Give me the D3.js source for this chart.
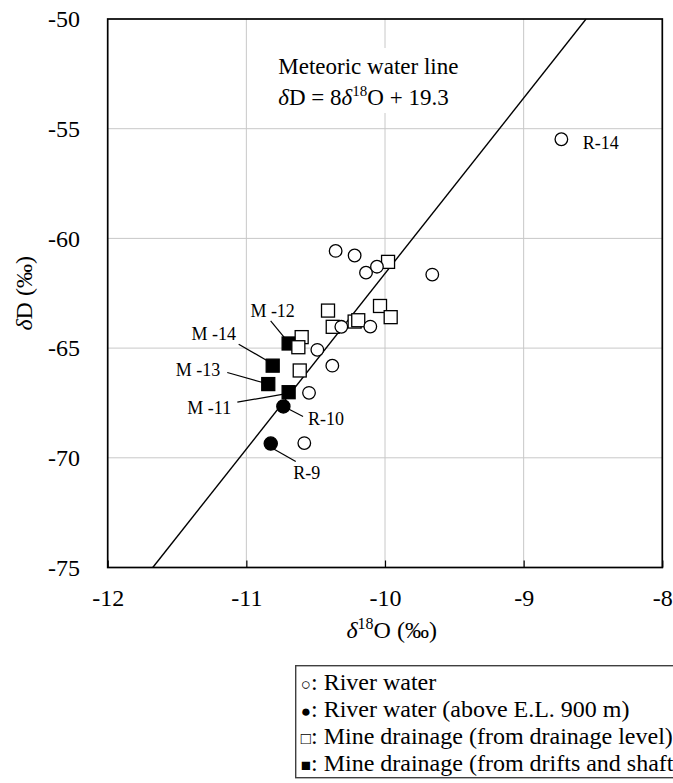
<!DOCTYPE html>
<html><head><meta charset="utf-8">
<script src="https://cdn.jsdelivr.net/npm/d3@7"></script>
<style>
html,body{margin:0;padding:0;background:#fff;overflow:hidden}
</style></head><body>
<svg id="chart" width="673" height="783"></svg>
<script>
// ---- data ----
const xTickValues = [-12, -11, -10, -9, -8];
const yTickValues = [-75, -70, -65, -60, -55, -50];
const xTickLabels = ["-12", "-11", "-10", "-9", "-8"];
const yTickLabels = ["-75", "-70", "-65", "-60", "-55", "-50"];

// River water (open circles)
const riverX = [-10.356, -10.219, -10.137, -10.058, -9.659, -10.315, -10.106, -10.488, -10.380, -10.548, -10.582, -8.728];
const riverY = [-60.57, -60.78, -61.56, -61.29, -61.65, -64.03, -64.02, -65.08, -65.80, -67.04, -69.33, -55.48];
const riverNames = ["", "", "", "", "", "", "", "", "", "", "", "R-14"];

// River water above E.L. 900 m (filled circles)
const riverHighX = [-10.733, -10.824];
const riverHighY = [-67.66, -69.35];
const riverHighNames = ["R-10", "R-9"];

// Mine drainage from drainage level (open squares)
const mineLevelX = [-9.978, -10.411, -10.036, -9.959, -10.377, -10.219, -10.193, -10.601, -10.625, -10.615];
const mineLevelY = [-61.07, -63.29, -63.08, -63.59, -64.03, -63.79, -63.73, -64.50, -64.96, -66.02];

// Mine drainage from drifts and shafts (filled squares)
const mineDriftX = [-10.695, -10.810, -10.842, -10.695];
const mineDriftY = [-64.79, -65.80, -66.64, -67.01];
const mineDriftNames = ["M -12", "M -14", "M -13", "M -11"];

// Meteoric water line as drawn
const mwlX = [-11.675, -8.55];
const mwlY = [-75, -50];

const legendSymbols = ["○", "●", "□", "■"];
const legendLabels = [": River water", ": River water (above E.L. 900 m)", ": Mine drainage (from drainage level)", ": Mine drainage (from drifts and shafts)"];

// ---- layout ----
const FONT = '"Liberation Serif", "Times New Roman", "Tinos", serif';
const W = 673, H = 783;
const plot = {left: 107.7, right: 662.3, top: 19, bottom: 567.5};
const svg = d3.select("#chart").style("font-family", FONT);
const x = d3.scaleLinear().domain([-12, -8]).range([plot.left, plot.right]);
const y = d3.scaleLinear().domain([-75, -50]).range([plot.bottom, plot.top]);

// label placement (pixel offsets from the point)
const labelLayout = {
  "M -12": {tx: -16, ty: -26, l: [-18, -22.5, -4, -5.5]},
  "M -14": {tx: -59, ty: -25.7, l: [-34, -21.4, -3.7, -4]},
  "M -13": {tx: -70.3, ty: -7.6, l: [-41, -11.6, -5.6, -1.6]},
  "M -11": {tx: -79.4, ty: 22, l: [-51.3, 10, -3.6, 1.7]},
  "R-10": {tx: 42.7, ty: 18.3, l: [4.7, 2.3, 19.7, 10]},
  "R-9": {tx: 36, ty: 35.5, l: [3, 5.5, 25, 18]},
  "R-14": {tx: 21.4, ty: 9.7, anchor: "start"}
};

svg.append("rect").attr("width", W).attr("height", H).attr("fill", "#fff");

// gridlines
const g = svg.append("g");
g.selectAll("line.vx").data(xTickValues.slice(1, -1)).join("line")
  .attr("x1", d => x(d)).attr("x2", d => x(d))
  .attr("y1", plot.top).attr("y2", plot.bottom)
  .attr("stroke", "#c8c8c8").attr("stroke-width", 1);
g.selectAll("line.hy").data(yTickValues.slice(1, -1)).join("line")
  .attr("y1", d => y(d)).attr("y2", d => y(d))
  .attr("x1", plot.left).attr("x2", plot.right)
  .attr("stroke", "#c8c8c8").attr("stroke-width", 1);

// axes
const xAxis = svg.append("g").attr("transform", `translate(0,${plot.bottom})`)
  .call(d3.axisBottom(x).tickValues(xTickValues).tickFormat((d, i) => xTickLabels[i]).tickSize(-7).tickPadding(21.5));
xAxis.select(".domain").remove();
xAxis.attr("font-family", null);
xAxis.selectAll("line").attr("stroke", "#000").attr("stroke-width", 1.2);
xAxis.selectAll("text").style("font-family", FONT).style("font-size", "24px").attr("fill", "#000");

const yAxis = svg.append("g").attr("transform", `translate(${plot.left},0)`)
  .call(d3.axisLeft(y).tickValues(yTickValues).tickFormat((d, i) => yTickLabels[i]).tickSize(0).tickPadding(27.7));
yAxis.select(".domain").remove();
yAxis.attr("font-family", null);
yAxis.selectAll("text").style("font-family", FONT).style("font-size", "24px").attr("fill", "#000");

// Meteoric text with white background
svg.append("rect").attr("x", 272).attr("y", 48).attr("width", 190).attr("height", 65).attr("fill", "#fff");
const mt = svg.append("g").style("font-family", FONT).style("font-size", "23px").attr("fill", "#000");
mt.append("text").attr("x", 278.3).attr("y", 74.3).text("Meteoric water line");
const eq = mt.append("text").attr("x", 278.3).attr("y", 105);
eq.append("tspan").style("font-style", "italic").text("δ");
eq.append("tspan").text("D = 8");
eq.append("tspan").style("font-style", "italic").text("δ");
eq.append("tspan").style("font-size", "15px").attr("dy", -9).text("18");
eq.append("tspan").attr("dy", 9).text("O + 19.3");

// clip for line
svg.append("clipPath").attr("id", "pc").append("rect")
  .attr("x", plot.left).attr("y", plot.top).attr("width", plot.right - plot.left).attr("height", plot.bottom - plot.top);

svg.append("line").attr("clip-path", "url(#pc)")
  .attr("x1", x(mwlX[0])).attr("y1", y(mwlY[0]))
  .attr("x2", x(mwlX[1])).attr("y2", y(mwlY[1]))
  .attr("stroke", "#000").attr("stroke-width", 1.4);

// plot border
svg.append("rect").attr("x", plot.left).attr("y", plot.top)
  .attr("width", plot.right - plot.left).attr("height", plot.bottom - plot.top)
  .attr("fill", "none").attr("stroke", "#000").attr("stroke-width", 1.7);

// points
const R = 6.3, S = 13;
const ptG = svg.append("g").attr("stroke", "#000").attr("stroke-width", 1.3);
const drift = mineDriftX.map((v, i) => ({x: v, y: mineDriftY[i], name: mineDriftNames[i]}));
const level = mineLevelX.map((v, i) => ({x: v, y: mineLevelY[i]}));
const river = riverX.map((v, i) => ({x: v, y: riverY[i], name: riverNames[i]}));
const riverHigh = riverHighX.map((v, i) => ({x: v, y: riverHighY[i], name: riverHighNames[i]}));

ptG.selectAll("rect.drift").data(drift).join("rect")
  .attr("x", d => x(d.x) - S / 2).attr("y", d => y(d.y) - S / 2)
  .attr("width", S).attr("height", S).attr("fill", "#000");
ptG.selectAll("rect.level").data(level).join("rect")
  .attr("x", d => x(d.x) - S / 2).attr("y", d => y(d.y) - S / 2)
  .attr("width", S).attr("height", S).attr("fill", "#fff");
ptG.selectAll("circle.river").data(river).join("circle")
  .attr("cx", d => x(d.x)).attr("cy", d => y(d.y)).attr("r", R).attr("fill", "#fff");
ptG.selectAll("circle.high").data(riverHigh).join("circle")
  .attr("cx", d => x(d.x)).attr("cy", d => y(d.y)).attr("r", R + 0.3).attr("fill", "#000");

// labels
const labeled = [...drift, ...riverHigh, ...river.filter(d => d.name)];
const lg = svg.append("g").style("font-family", FONT).style("font-size", "18px").attr("fill", "#000");
labeled.forEach(d => {
  const L = labelLayout[d.name];
  const px = x(d.x), py = y(d.y);
  if (L.l) {
    lg.append("line").attr("x1", px + L.l[0]).attr("y1", py + L.l[1])
      .attr("x2", px + L.l[2]).attr("y2", py + L.l[3])
      .attr("stroke", "#000").attr("stroke-width", 1.2);
  }
  lg.append("text").attr("x", px + L.tx).attr("y", py + L.ty)
    .attr("text-anchor", L.anchor || "middle").text(d.name);
});

// axis titles
const xt = svg.append("text").attr("x", 391.7).attr("y", 638.3).attr("text-anchor", "middle")
  .style("font-family", FONT).style("font-size", "24px");
xt.append("tspan").style("font-style", "italic").text("δ");
xt.append("tspan").style("font-size", "16px").attr("dy", -9).text("18");
xt.append("tspan").attr("dy", 9).text("O (‰)");

const yt = svg.append("text").attr("transform", "translate(32.3,293.3) rotate(-90)")
  .attr("text-anchor", "middle").style("font-family", FONT).style("font-size", "24px");
yt.append("tspan").style("font-style", "italic").text("δ");
yt.append("tspan").text("D (‰)");

// legend
svg.append("rect").attr("x", 295.7).attr("y", 665.7).attr("width", 420).attr("height", 112)
  .attr("fill", "#fff").attr("stroke", "#404040").attr("stroke-width", 1.4);
const legG = svg.append("g").style("font-family", FONT).style("font-size", "24px").attr("fill", "#000");
legendLabels.forEach((lab, i) => {
  const t = legG.append("text").attr("x", 300.7).attr("y", 689.5 + i * 27.2);
  t.append("tspan").style("font-size", "17px").text(legendSymbols[i]);
  t.append("tspan").text(lab);
});
</script>
</body></html>
